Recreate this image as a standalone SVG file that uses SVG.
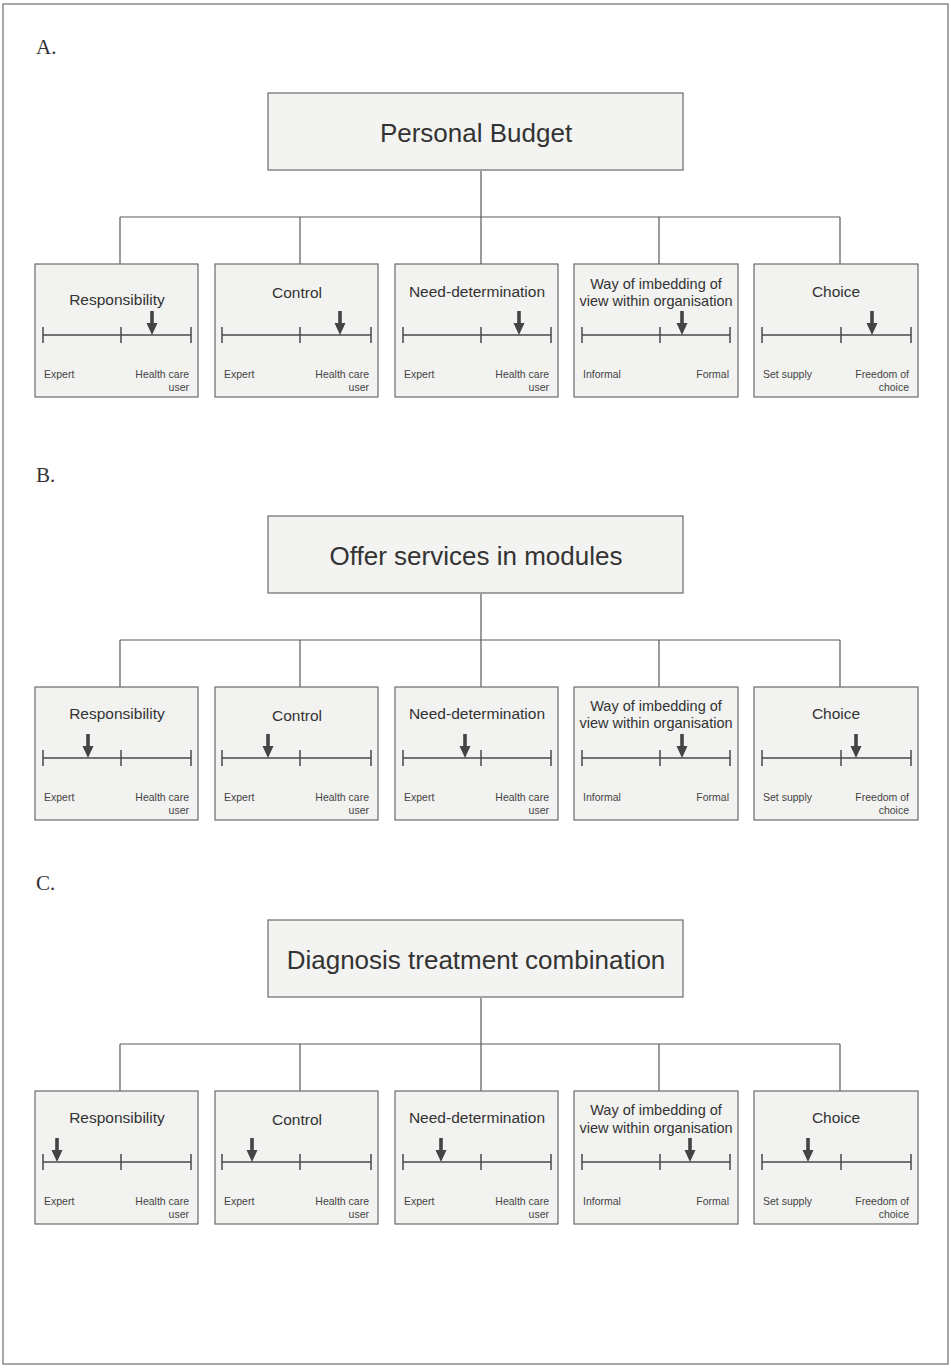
<svg xmlns="http://www.w3.org/2000/svg" xmlns:xlink="http://www.w3.org/1999/xlink" width="951" height="1368" viewBox="0 0 951 1368">
<style>
.frame{fill:#fff;stroke:#8a8a8a;stroke-width:1.5}
.top{fill:#f3f3f1;stroke:#6a6a6a;stroke-width:1.2}
.box{fill:#f2f2f0;stroke:#6a6a6a;stroke-width:1.2}
.conn{fill:none;stroke:#5a5a5a;stroke-width:1.2}
.scale{fill:none;stroke:#4a4a4a;stroke-width:1.5}
.arrow{fill:#444;stroke:none}
.sec{font-family:"Liberation Serif",serif;font-size:21px;fill:#333}
.ttl{font-family:"Liberation Sans",Arial,sans-serif;font-size:26px;fill:#333;text-anchor:middle}
.sub{font-family:"Liberation Sans",Arial,sans-serif;font-size:15.5px;fill:#333;text-anchor:middle}
.way{font-size:14.5px}
.lbl{font-family:"Liberation Sans",Arial,sans-serif;font-size:10.5px;fill:#444}
.r{text-anchor:end}
</style>
<defs>
<path id="arr" class="arrow" d="M-1.8,-24 H1.8 V-12 H5.5 L0,0 L-5.5,-12 H-1.8 Z"/>
<path id="sc1" class="scale" d="M43,335 H191 M43,327 V343 M121,327 V343 M191,327 V343"/>
<path id="sc2" class="scale" d="M222,335 H371 M222,327 V343 M300,327 V343 M371,327 V343"/>
<path id="sc3" class="scale" d="M403,335 H551 M403,327 V343 M481,327 V343 M551,327 V343"/>
<path id="sc4" class="scale" d="M582,335 H730 M582,327 V343 M660,327 V343 M730,327 V343"/>
<path id="sc5" class="scale" d="M762,335 H911 M762,327 V343 M841,327 V343 M911,327 V343"/>
</defs>
<rect class="frame" x="3" y="4" width="945" height="1360"/>

<!-- Section A -->
<g id="sectionA">
<text class="sec" x="36" y="54">A.</text>
<g id="connA">
<path class="conn" d="M481,171 V217 M120,217 H840 M120,217 V264 M300,217 V264 M481,217 V264 M659,217 V264 M840,217 V264"/>
</g>
<g id="A-root"><rect class="top" x="268" y="93" width="415" height="77"/><text class="ttl" x="476" y="142">Personal Budget</text></g>
<g id="A-resp"><rect class="box" x="35" y="264" width="163" height="133"/><text class="sub" x="117" y="305">Responsibility</text><use href="#sc1"/><use href="#arr" x="152" y="335"/><text class="lbl" x="44" y="378">Expert</text><text class="lbl r" x="189" y="378">Health care</text><text class="lbl r" x="189" y="391">user</text></g>
<g id="A-ctrl"><rect class="box" x="215" y="264" width="163" height="133"/><text class="sub" x="297" y="298">Control</text><use href="#sc2"/><use href="#arr" x="340" y="335"/><text class="lbl" x="224" y="378">Expert</text><text class="lbl r" x="369" y="378">Health care</text><text class="lbl r" x="369" y="391">user</text></g>
<g id="A-need"><rect class="box" x="395" y="264" width="163" height="133"/><text class="sub" x="477" y="297">Need-determination</text><use href="#sc3"/><use href="#arr" x="519" y="335"/><text class="lbl" x="404" y="378">Expert</text><text class="lbl r" x="549" y="378">Health care</text><text class="lbl r" x="549" y="391">user</text></g>
<g id="A-way"><rect class="box" x="574" y="264" width="164" height="133"/><text class="sub way" x="656" y="289">Way of imbedding of</text><text class="sub way" x="656" y="306">view within organisation</text><use href="#sc4"/><use href="#arr" x="682" y="335"/><text class="lbl" x="583" y="378">Informal</text><text class="lbl r" x="729" y="378">Formal</text></g>
<g id="A-choice"><rect class="box" x="754" y="264" width="164" height="133"/><text class="sub" x="836" y="297">Choice</text><use href="#sc5"/><use href="#arr" x="872" y="335"/><text class="lbl" x="763" y="378">Set supply</text><text class="lbl r" x="909" y="378">Freedom of</text><text class="lbl r" x="909" y="391">choice</text></g>
</g>

<!-- Section B -->
<g id="sectionB" transform="translate(0,423)">
<text class="sec" x="36" y="59">B.</text>
<g id="connB">
<path class="conn" d="M481,171 V217 M120,217 H840 M120,217 V264 M300,217 V264 M481,217 V264 M659,217 V264 M840,217 V264"/>
</g>
<g id="B-root"><rect class="top" x="268" y="93" width="415" height="77"/><text class="ttl" x="476" y="142">Offer services in modules</text></g>
<g id="B-resp"><rect class="box" x="35" y="264" width="163" height="133"/><text class="sub" x="117" y="296">Responsibility</text><use href="#sc1"/><use href="#arr" x="88" y="335"/><text class="lbl" x="44" y="378">Expert</text><text class="lbl r" x="189" y="378">Health care</text><text class="lbl r" x="189" y="391">user</text></g>
<g id="B-ctrl"><rect class="box" x="215" y="264" width="163" height="133"/><text class="sub" x="297" y="298">Control</text><use href="#sc2"/><use href="#arr" x="268" y="335"/><text class="lbl" x="224" y="378">Expert</text><text class="lbl r" x="369" y="378">Health care</text><text class="lbl r" x="369" y="391">user</text></g>
<g id="B-need"><rect class="box" x="395" y="264" width="163" height="133"/><text class="sub" x="477" y="296">Need-determination</text><use href="#sc3"/><use href="#arr" x="465" y="335"/><text class="lbl" x="404" y="378">Expert</text><text class="lbl r" x="549" y="378">Health care</text><text class="lbl r" x="549" y="391">user</text></g>
<g id="B-way"><rect class="box" x="574" y="264" width="164" height="133"/><text class="sub way" x="656" y="288">Way of imbedding of</text><text class="sub way" x="656" y="305">view within organisation</text><use href="#sc4"/><use href="#arr" x="682" y="335"/><text class="lbl" x="583" y="378">Informal</text><text class="lbl r" x="729" y="378">Formal</text></g>
<g id="B-choice"><rect class="box" x="754" y="264" width="164" height="133"/><text class="sub" x="836" y="296">Choice</text><use href="#sc5"/><use href="#arr" x="856" y="335"/><text class="lbl" x="763" y="378">Set supply</text><text class="lbl r" x="909" y="378">Freedom of</text><text class="lbl r" x="909" y="391">choice</text></g>
</g>

<!-- Section C -->
<g id="sectionC" transform="translate(0,827)">
<text class="sec" x="36" y="63">C.</text>
<g id="connC">
<path class="conn" d="M481,171 V217 M120,217 H840 M120,217 V264 M300,217 V264 M481,217 V264 M659,217 V264 M840,217 V264"/>
</g>
<g id="C-root"><rect class="top" x="268" y="93" width="415" height="77"/><text class="ttl" x="476" y="142">Diagnosis treatment combination</text></g>
<g id="C-resp"><rect class="box" x="35" y="264" width="163" height="133"/><text class="sub" x="117" y="296">Responsibility</text><use href="#sc1"/><use href="#arr" x="57" y="335"/><text class="lbl" x="44" y="378">Expert</text><text class="lbl r" x="189" y="378">Health care</text><text class="lbl r" x="189" y="391">user</text></g>
<g id="C-ctrl"><rect class="box" x="215" y="264" width="163" height="133"/><text class="sub" x="297" y="298">Control</text><use href="#sc2"/><use href="#arr" x="252" y="335"/><text class="lbl" x="224" y="378">Expert</text><text class="lbl r" x="369" y="378">Health care</text><text class="lbl r" x="369" y="391">user</text></g>
<g id="C-need"><rect class="box" x="395" y="264" width="163" height="133"/><text class="sub" x="477" y="296">Need-determination</text><use href="#sc3"/><use href="#arr" x="441" y="335"/><text class="lbl" x="404" y="378">Expert</text><text class="lbl r" x="549" y="378">Health care</text><text class="lbl r" x="549" y="391">user</text></g>
<g id="C-way"><rect class="box" x="574" y="264" width="164" height="133"/><text class="sub way" x="656" y="288">Way of imbedding of</text><text class="sub way" x="656" y="306">view within organisation</text><use href="#sc4"/><use href="#arr" x="690" y="335"/><text class="lbl" x="583" y="378">Informal</text><text class="lbl r" x="729" y="378">Formal</text></g>
<g id="C-choice"><rect class="box" x="754" y="264" width="164" height="133"/><text class="sub" x="836" y="296">Choice</text><use href="#sc5"/><use href="#arr" x="808" y="335"/><text class="lbl" x="763" y="378">Set supply</text><text class="lbl r" x="909" y="378">Freedom of</text><text class="lbl r" x="909" y="391">choice</text></g>
</g>
</svg>
